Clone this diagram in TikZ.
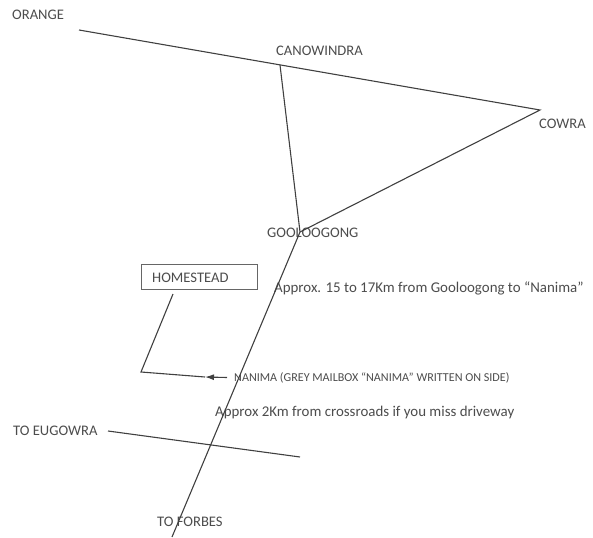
\documentclass[tikz,border=0pt]{standalone}
\usepackage{fontspec}
\setmainfont{Carlito}
\usetikzlibrary{arrows.meta}
\tikzset{
  road/.style={draw=black!75,line width=1.1pt},
  lbl/.style={text=black!70,inner sep=0pt,anchor=west,font=\fontsize{14.6}{16}\selectfont},
  note/.style={text=black!70,inner sep=0pt,anchor=west,font=\fontsize{14.9}{16}\selectfont},
  small/.style={text=black!70,inner sep=0pt,anchor=west,font=\fontsize{12.1}{14}\selectfont},
  house/.style={draw=black!60,line width=0.8pt,minimum width=116pt,minimum height=25pt,inner sep=0pt}
}
\begin{document}
\begin{tikzpicture}[x=1pt,y=-1pt]
\useasboundingbox (0,0) rectangle (593,537);
\coordinate (orange) at (79,30);
\coordinate (cowra) at (540,110);
\coordinate (cano) at (280,65);
\coordinate (goo) at (300,232);
\coordinate (forbes) at (172,537);
\coordinate (eugA) at (108,431);
\coordinate (eugB) at (300,457);
\coordinate (bend) at (141,372);
\coordinate (hfoot) at (173,294);
\coordinate (arrowA) at (227,377.5);
\coordinate (arrowB) at (205,377);
\node[lbl] (tOrange) at (12,15) {ORANGE};
\node[lbl] (tCano) at (276,51) {CANOWINDRA};
\node[lbl] (tCowra) at (539,124) {COWRA};
\node[lbl] (tGoo) at (267,233) {GOOLOOGONG};
\node[house] (home) at (199,276.5) {};
\node[lbl] (tHome) at (152,278) {HOMESTEAD};
\node[note] (tApprox) at (274,288) {Approx. 15 to 17Km from Gooloogong to “Nanima”};
\node[small] (tNan) at (234,378) {NANIMA (GREY MAILBOX “NANIMA” WRITTEN ON SIDE)};
\node[note] (tMiss) at (215,413) {Approx 2Km from crossroads if you miss driveway};
\node[lbl] (tEug) at (13,431) {TO EUGOWRA};
\node[lbl] (tForbes) at (157,522) {TO FORBES};
\draw[road] (orange) -- (cowra) -- (goo);
\draw[road] (cano) -- (goo) -- (forbes);
\draw[road] (eugA) -- (eugB);
\draw[road] (hfoot) -- (bend) -- (arrowB);
\draw[road,-{Latex[length=9pt,width=6pt]}] (arrowA) -- (arrowB);
\end{tikzpicture}
\end{document}
